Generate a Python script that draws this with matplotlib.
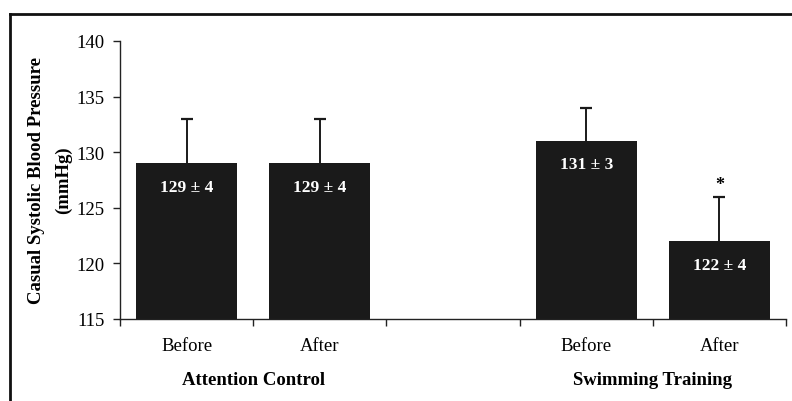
import numpy as np
import matplotlib.pyplot as plt
from matplotlib.lines import Line2D
from matplotlib.transforms import blended_transform_factory

# casual systolic BP, mean +/- SD, before/after for each group
conditions = ['Before', 'After', '', 'Before', 'After']
groups = ['Attention Control', 'Swimming Training']
means = [129, 129, None, 131, 122]
errs = [4, 4, None, 3, 4]
sig = [False, False, False, False, True]

plt.rcParams['font.family'] = ['Liberation Serif', 'DejaVu Serif']

fig = plt.figure(figsize=(7.92, 4.02), dpi=100)
ax = fig.add_axes([120/792, 1-320/402, 666/792, 278/402])

xpos = np.arange(len(conditions))
for i in xpos:
    if means[i] is None:
        continue
    ax.bar(i, means[i] - 115, bottom=115, width=0.76, color='#1a1a1a', zorder=2)
    # upper error only
    eb = ax.errorbar(i, means[i], yerr=[[0], [errs[i]]], fmt='none', ecolor='#1a1a1a',
                     elinewidth=1.4, capsize=4.5, capthick=1.6, zorder=1)
    eb[1][0].set_visible(False)  # drop the lower cap
    ax.text(i, means[i] - 2.1, '{} \u00b1 {}'.format(means[i], errs[i]), color='white',
            fontsize=12.5, fontweight='bold', ha='center', va='center', zorder=4)
    if sig[i]:
        ax.text(i, means[i] + errs[i] + 1.1, '*', fontsize=13, fontweight='bold',
                ha='center', va='center')

ax.set_xlim(-0.5, 4.5)
ax.set_ylim(115, 140)
ax.set_yticks([115, 120, 125, 130, 135, 140])
ax.tick_params(axis='y', labelsize=13.5, length=5, width=1, direction='out', pad=6,
               color='#222222')

# category labels under bars, boundary tick marks between categories
ax.set_xticks(xpos)
ax.set_xticklabels(conditions, fontsize=13.5)
ax.tick_params(axis='x', which='major', length=0, pad=13)
ax.set_xticks(np.arange(-0.5, 5, 1), minor=True)
ax.tick_params(axis='x', which='minor', length=5, width=1, direction='out', color='#222222')

for s in ['top', 'right']:
    ax.spines[s].set_visible(False)
for s in ['left', 'bottom']:
    ax.spines[s].set_color('#222222')
    ax.spines[s].set_linewidth(1)

trans = blended_transform_factory(ax.transData, fig.transFigure)
ax.text(0.5, 1-381/402, groups[0], transform=trans, fontsize=13.5, fontweight='bold',
        ha='center', va='center')
ax.text(3.5, 1-381/402, groups[1], transform=trans, fontsize=13.5, fontweight='bold',
        ha='center', va='center')

fig.text(37/792, 1-180/402, 'Casual Systolic Blood Pressure', rotation=90, fontsize=13.5,
         fontweight='bold', ha='center', va='center')
fig.text(63/792, 1-180/402, '(mmHg)', rotation=90, fontsize=13.5,
         fontweight='bold', ha='center', va='center')

# frame around the figure (top and left edges)
fig.add_artist(Line2D([10/792, 1], [1-15/402, 1-15/402], color='#111111', lw=2,
                      transform=fig.transFigure))
fig.add_artist(Line2D([10/792, 10/792], [0, 1-15/402], color='#111111', lw=2,
                      transform=fig.transFigure))

plt.savefig('out.png', dpi=100)
